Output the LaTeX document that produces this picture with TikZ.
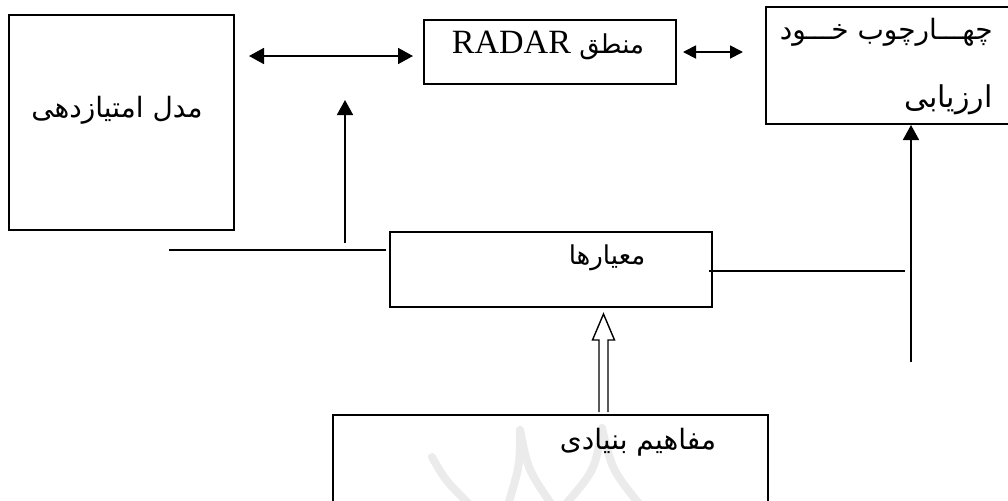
\documentclass[tikz,border=0pt]{standalone}
\usepackage{fontspec}
\setmainfont{Liberation Serif}
\newfontfamily\arabicfont[Script=Arabic]{DejaVu Sans}
\TeXXeTstate=1
\usetikzlibrary{arrows.meta,calc}
\begin{document}
\begin{tikzpicture}[x=0.5pt,y=-0.5pt,
  box/.style={draw, line width=1pt, inner sep=0pt, anchor=north west},
  fa/.style={font=\arabicfont\fontsize{14}{17}\selectfont, inner sep=0pt},
  conn/.style={line width=0.9pt},
  uptip/.style={-{Triangle[length=7.5pt,width=8pt]}},
  dbl/.style={{Triangle[length=7.5pt,width=8pt]}-{Triangle[length=7.5pt,width=8pt]}},
  dblsmall/.style={{Triangle[length=6.5pt,width=6.5pt]}-{Triangle[length=6.5pt,width=6.5pt]}},
  hollow/.style={line width=0.7pt, fill=white},
  wm/.style={draw=black!8, line width=4pt, line cap=round}]
\clip (0,0) rectangle (1008,500);
% watermark
\draw[wm] (432,457) .. controls (445,480) .. (470,505);
\draw[wm] (520,430) .. controls (520,465) .. (508,505);
\draw[wm] (520,430) .. controls (528,470) .. (552,505);
\draw[wm] (602,428) .. controls (595,470) .. (565,505);
\draw[wm] (602,428) .. controls (612,470) .. (640,505);
% boxes
\node[box, minimum width=112.5pt, minimum height=107.5pt] (A) at (8,14) {};
\node[box, minimum width=126pt, minimum height=32pt] (B) at (423,19) {};
\node[box, minimum width=130pt, minimum height=58.5pt] (C) at (765,6) {};
\node[box, minimum width=161pt, minimum height=37.5pt] (M) at (389,231) {};
\node[box, minimum width=217.5pt, minimum height=60pt] (D) at (332,414) {};
% texts
\node[fa] (tA) at (117,110) {\beginR مدل امتیازدهی\endR};
\node[fa, font=\arabicfont\fontsize{13}{16}\selectfont] (tB) at (548,45) {\beginR منطق {\rmfamily\fontsize{17}{20}\selectfont\beginL RADAR\endL}\endR};
\node[fa, anchor=east] (tC1) at (993,32) {\beginR چهـــارچوب خـــود\endR};
\node[fa, anchor=east, font=\arabicfont\fontsize{15}{18}\selectfont] (tC2) at (993,100) {\beginR ارزیابی\endR};
\node[fa, font=\arabicfont\fontsize{13}{16}\selectfont] (tM) at (607,258) {\beginR معیارها\endR};
\node[fa] (tD) at (638,442) {\beginR مفاهیم بنیادی\endR};
% connectors
\draw[conn, dbl] ($(A.north east)+(14,42)$) -- ($(B.north west)+(-10,37)$);
\draw[conn, dblsmall] ($(B.north east)+(6,33)$) -- ($(C.north west)+(-22,46)$);
\coordinate (h1s) at (169,250);
\draw[conn] (h1s) -- ($(M.west |- h1s)+(-3,0)$);
\coordinate (v1b) at (345,243);
\coordinate (v1t) at (345,100);
\draw[conn, uptip] (v1b) -- (v1t);
\coordinate (h2e) at (905,271);
\draw[conn] ($(M.east |- h2e)+(-4,0)$) -- (h2e);
\coordinate (v2b) at (911,362);
\draw[conn, uptip] (v2b) -- (v2b |- C.south);
% hollow arrow from D to M
\coordinate (ha) at ($(M.south)+(52.5,6)$);
\coordinate (hb) at (ha |- D.north);
\draw[hollow] ($(hb)+(-4.5,-2)$) -- ($(ha)+(-4.5,26)$) -- ($(ha)+(-11,26)$) -- (ha) -- ($(ha)+(11,26)$) -- ($(ha)+(4.5,26)$) -- ($(hb)+(4.5,-2)$);
\end{tikzpicture}
\end{document}
